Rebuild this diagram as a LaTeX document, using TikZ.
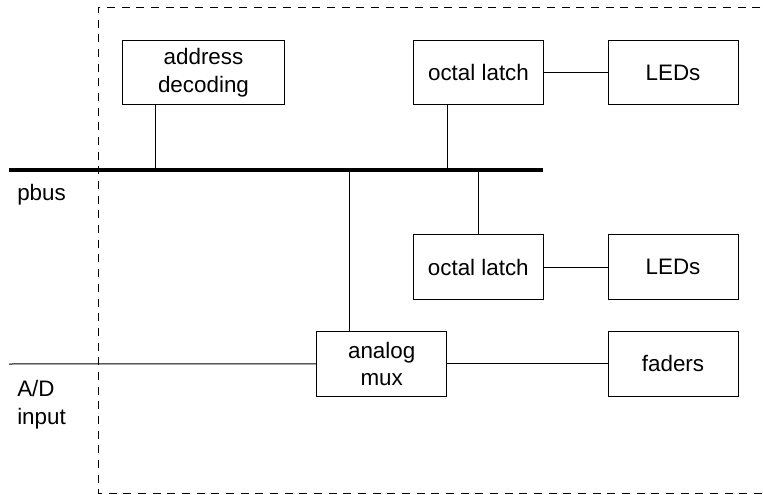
\documentclass[tikz,border=0pt]{standalone}
\usepackage{fontspec}
\setmainfont{Liberation Sans}
\tikzstyle{block} = [rectangle, draw=black, line width=0.75pt, minimum width=97.5pt, minimum height=48.3pt, inner sep=0pt, text centered, align=center]
\tikzstyle{wire} = [draw, line width=0.75pt]

\begin{document}
\begin{tikzpicture}[x=0.75pt, y=-0.75pt, font=\fontsize{16.8}{20.4}\selectfont]
	\tikzset{bus/.style={draw, line width=2.8pt}, board/.style={draw, dashed, dash pattern=on 6pt off 5pt, line width=0.75pt}}
	\useasboundingbox (0,0) rectangle (763,495);
	% board outline
	\draw[board] (775,7.5) -| (98,493.3) -- (775,493.3);
	% blocks
	\node[block, minimum width=121.2pt] (addr) at (203.5,72.8) {address\\decoding};
	\node[block] (latchA) at (478.5,72.8) {octal latch};
	\node[block] (ledA) at (673,72.8) {LEDs};
	\node[block] (latchB) at (478.3,267) {octal latch};
	\node[block] (ledB) at (673,267) {LEDs};
	\node[block] (mux) at (381.7,363.8) {analog\\mux};
	\node[block] (fader) at (673,363.8) {faders};
	% pbus
	\coordinate (busL) at (9,170);
	\coordinate (busR) at (543,170);
	\coordinate (tapA) at (155,170);
	\coordinate (tapB) at (447,170);
	\coordinate (tapC) at (349,170);
	\draw[bus] (busL) -- (busR);
	\node[anchor=base west, inner sep=0pt] (pbus) at (17,201) {pbus};
	% A/D input
	\coordinate (adin) at (9,364);
	\node[anchor=base west, inner sep=0pt, align=left] (adlbl) at (17,424) {A/D\\input};
	% connections
	\draw[wire] (addr.south -| tapA) -- (tapA);
	\draw[wire] (latchA.south -| tapB) -- (tapB);
	\draw[wire] (tapC) -- (tapC |- mux.north);
	\draw[wire] (latchB.north) -- (latchB.north |- busR);
	\draw[wire] (latchA) -- (ledA);
	\draw[wire] (latchB) -- (ledB);
	\draw[wire] (mux) -- (fader);
	\draw[wire] (adin) -- (mux.west);
\end{tikzpicture}
\end{document}
